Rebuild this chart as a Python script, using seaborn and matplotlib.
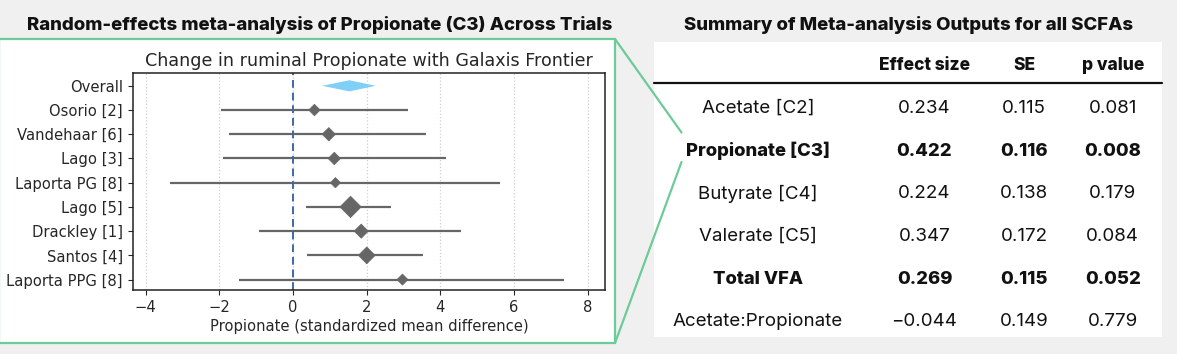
import matplotlib
matplotlib.use("Agg")
import matplotlib.pyplot as plt
from matplotlib.lines import Line2D
from matplotlib.patches import Rectangle
import seaborn as sns
import pandas as pd

# ---------------- data ----------------
studies = ["Osorio [2]", "Vandehaar [6]", "Lago [3]", "Laporta PG [8]",
           "Lago [5]", "Drackley [1]", "Santos [4]", "Laporta PPG [8]"]
smd = [0.58, 0.97, 1.12, 1.15, 1.56, 1.85, 2.00, 2.97]
ci_low = [-1.97, -1.75, -1.91, -3.33, 0.36, -0.93, 0.39, -1.46]
ci_high = [3.11, 3.61, 4.14, 5.63, 2.67, 4.55, 3.54, 7.36]
weights = [8.4, 11.0, 9.7, 6.8, 27.1, 12.3, 17.1, 7.7]
overall_label = "Overall"
overall_est = 1.53
overall_low = 0.79
overall_high = 2.24
x_ticks = [-4, -2, 0, 2, 4, 6, 8]

table_cols = ["Effect size", "SE", "p value"]
table_rows = ["Acetate [C2]", "Propionate [C3]", "Butyrate [C4]",
              "Valerate [C5]", "Total VFA", "Acetate:Propionate"]
effect_size = ["0.234", "0.422", "0.224", "0.347", "0.269", "\u22120.044"]
std_err = ["0.115", "0.116", "0.138", "0.172", "0.115", "0.149"]
p_values = ["0.081", "0.008", "0.179", "0.084", "0.052", "0.779"]
bold_rows = ["Propionate [C3]", "Total VFA"]

# ---------------- style ----------------
sns.set_style("ticks")
plt.rcParams["font.family"] = ["DejaVu Sans"]

W, H = 1177, 354
BG = "#f0f0f0"
GREEN = "#6ccb98"
fig = plt.figure(figsize=(W / 100, H / 100), dpi=100, facecolor=BG)


def fx(px):
    return px / W


def fy(py):
    return 1 - py / H


# left framed panel
fig.add_artist(Rectangle((fx(-1), fy(343)), fx(616), (343 - 39) / H,
                         transform=fig.transFigure, facecolor="white",
                         edgecolor=GREEN, lw=1.6, zorder=0))
# table panel
fig.add_artist(Rectangle((fx(654), fy(337)), (1162 - 654) / W, (337 - 42) / H,
                         transform=fig.transFigure, facecolor="white",
                         edgecolor="none", zorder=0))
# connectors
fig.add_artist(Line2D([fx(615), fx(681.5)], [fy(39), fy(132.5)],
                      transform=fig.transFigure, color=GREEN, lw=1.6))
fig.add_artist(Line2D([fx(681.5), fx(615)], [fy(162), fy(343)],
                      transform=fig.transFigure, color=GREEN, lw=1.6))

# headers
HEAD_FONT = ["Inter", "DejaVu Sans"]
fig.text(fx(320), fy(25), "Random-effects meta-analysis of Propionate (C3) Across Trials",
         ha="center", va="center", fontsize=13.4, fontweight="heavy",
         family=HEAD_FONT, color="#111111")
fig.text(fx(909), fy(25), "Summary of Meta-analysis Outputs for all SCFAs",
         ha="center", va="center", fontsize=13.4, fontweight="heavy",
         family=HEAD_FONT, color="#111111")

# ---------------- forest plot ----------------
ax = fig.add_axes([fx(132.5), fy(290), (605.4 - 132.5) / W, (290 - 72.5) / H])
ax.set_facecolor("white")

df = pd.DataFrame({"study": studies, "smd": smd, "lo": ci_low, "hi": ci_high,
                   "w": weights})
df["pos"] = range(1, len(studies) + 1)

ax.grid(axis="x", linestyle=":", color="#cfcfcf", lw=0.9)
ax.hlines(df["pos"], df["lo"], df["hi"], color="#666666", lw=1.6, zorder=2)
sns.scatterplot(data=df, x="smd", y="pos", size="w", sizes=(28, 120),
                marker="D", color="#666666", edgecolor="#666666",
                legend=False, ax=ax, zorder=3)
h = 0.23
ax.fill([overall_low, overall_est, overall_high, overall_est],
        [0, -h, 0, h], color="#7fcff6", lw=0, zorder=3)
ax.axvline(0, ls=(0, (4, 2.5)), color="#3f68a6", lw=1.4, zorder=2)

ax.set_yticks([0] + list(df["pos"]))
ax.set_yticklabels([overall_label] + studies, fontsize=10.6)
ax.set_xticks(x_ticks)
ax.tick_params(axis="x", labelsize=10.6)
ax.set_xlim(-4.36, 8.48)
ax.set_ylim(8.43, -0.55)
ax.set_ylabel("")
ax.set_xlabel("Propionate (standardized mean difference)", fontsize=10.6, labelpad=3)
ax.set_title("Change in ruminal Propionate with Galaxis Frontier", fontsize=12.6, pad=5)
for s in ax.spines.values():
    s.set_color("#222222")
    s.set_linewidth(1.1)

# ---------------- table ----------------
TAB_FONT = ["Inter", "DejaVu Sans"]
col_x = [758, 924.5, 1024, 1112.7]
head_y = 65.5
row_y = [108, 151, 193.5, 236.5, 279, 321]
for cx, name in zip(col_x[1:], table_cols):
    fig.text(fx(cx), fy(head_y), name, ha="center", va="center", fontsize=12.5,
             fontweight="heavy", family=TAB_FONT, color="#111111")
fig.add_artist(Line2D([fx(654), fx(1162)], [fy(83), fy(83)],
                      transform=fig.transFigure, color="#111111", lw=1.6))
for ry, name, es, se, pv in zip(row_y, table_rows, effect_size, std_err, p_values):
    bold = name in bold_rows
    wt = "heavy" if bold else "normal"
    fs = 13.3 if bold else 13.5
    for cx, val in zip(col_x, [name, es, se, pv]):
        fig.text(fx(cx), fy(ry), val, ha="center", va="center", fontsize=fs,
                 fontweight=wt, family=TAB_FONT, color="#111111")

fig.savefig("out.png", dpi=100, facecolor=BG)
